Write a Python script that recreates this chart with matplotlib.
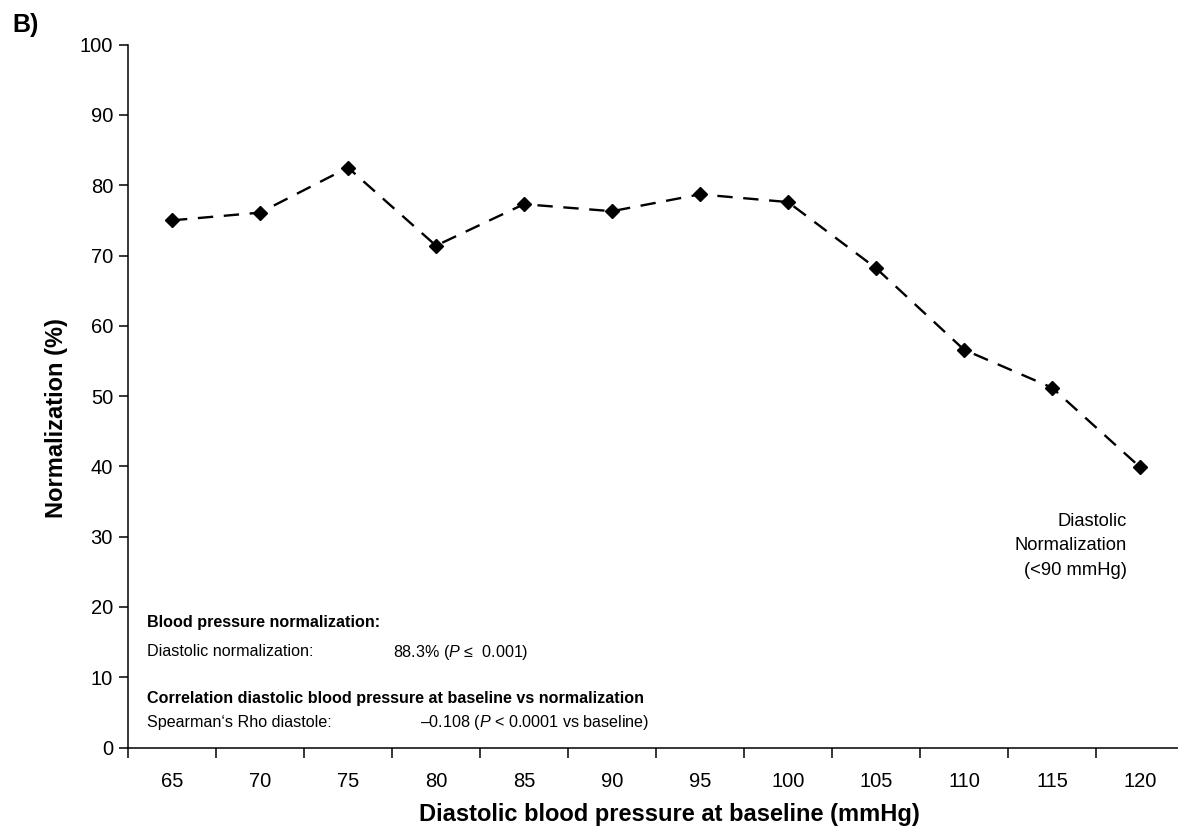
import matplotlib

matplotlib.use("Agg")
import matplotlib.pyplot as plt
import numpy as np

plt.rcParams["font.family"] = ["Liberation Sans", "DejaVu Sans"]
plt.rcParams["mathtext.fontset"] = "custom"
plt.rcParams["mathtext.rm"] = "Liberation Sans"
plt.rcParams["mathtext.it"] = "Liberation Sans:italic"
plt.rcParams["mathtext.bf"] = "Liberation Sans:bold"

# data
bp_labels = ["65", "70", "75", "80", "85", "90", "95", "100", "105", "110", "115", "120"]
normalization = [75.0, 76.1, 82.5, 71.4, 77.3, 76.3, 78.7, 77.6, 68.2, 56.6, 51.2, 39.9]
y_ticks = [0, 10, 20, 30, 40, 50, 60, 70, 80, 90, 100]

W, H = 1178, 834
fig = plt.figure(figsize=(W / 100, H / 100), dpi=100)
fig.patch.set_facecolor("white")

# axes box in pixels: left 128, right edge of image, y=0 at 747.6, y=100 at 44.6
ax_left, ax_bottom_px, ax_top_px = 128, 747.6, 44.6
ax = fig.add_axes([
    ax_left / W,
    (H - ax_bottom_px) / H,
    (W - ax_left) / W,
    (ax_bottom_px - ax_top_px) / H,
])

x = np.arange(len(bp_labels))
ax.plot(
    x,
    normalization,
    color="black",
    linewidth=1.7,
    linestyle=(0, (6.5, 4.5)),
    marker="D",
    markersize=7.5,
    markerfacecolor="black",
    markeredgecolor="black",
    clip_on=False,
    zorder=3,
)

ax.set_xlim(-0.5, -0.5 + (W - ax_left) / 88.0)
ax.set_ylim(0, 100)

for side in ("top", "right"):
    ax.spines[side].set_visible(False)
for side in ("left", "bottom"):
    ax.spines[side].set_linewidth(1.1)
    ax.spines[side].set_color("black")

ax.set_yticks(y_ticks)
ax.set_yticklabels([str(v) for v in y_ticks])
ax.tick_params(axis="y", direction="out", length=6.5, width=1.1, pad=4.3,
               labelsize=14.5, colors="black")

# tick marks between categories, labels at category centres
ax.set_xticks(np.arange(-0.5, len(bp_labels) - 0.5, 1.0))
ax.set_xticklabels([])
ax.set_xticks(x, minor=True)
ax.set_xticklabels(bp_labels, minor=True)
ax.tick_params(axis="x", which="major", direction="out", length=7, width=1.1)
ax.tick_params(axis="x", which="minor", length=0, pad=17.5, labelsize=14.5, colors="black")

ax.set_ylabel("Normalization (%)", fontsize=17, fontweight="bold")
ax.yaxis.label.set_va("center")
ax.yaxis.set_label_coords(-0.068, 0.469)
ax.set_xlabel("Diastolic blood pressure at baseline (mmHg)", fontsize=17, fontweight="bold")
ax.xaxis.label.set_va("center")
ax.xaxis.set_label_coords(0.516, -0.095)


def fx(px):
    return (px - ax_left) / (W - ax_left)


def fy(py):
    return (ax_bottom_px - py) / (ax_bottom_px - ax_top_px)


small = 11.6
ax.text(fx(147), fy(623), "Blood pressure normalization:", transform=ax.transAxes,
        fontsize=small, fontweight="bold", va="center", ha="left")
ax.text(fx(147), fy(652), "Diastolic normalization:", transform=ax.transAxes,
        fontsize=small, va="center", ha="left")
ax.text(fx(393), fy(652), "88.3% ($P$ ≤  0.001)", transform=ax.transAxes,
        fontsize=small, va="center", ha="left")
ax.text(fx(147), fy(698), "Correlation diastolic blood pressure at baseline vs normalization",
        transform=ax.transAxes, fontsize=small, fontweight="bold", va="center", ha="left")
ax.text(fx(147), fy(723), "Spearman‘s Rho diastole:", transform=ax.transAxes,
        fontsize=small, va="center", ha="left")
ax.text(fx(420), fy(723), "–0.108 ($P$ < 0.0001 vs baseline)", transform=ax.transAxes,
        fontsize=small, va="center", ha="left")

ax.text(fx(1127), fy(546), "Diastolic\nNormalization\n(<90 mmHg)", transform=ax.transAxes,
        fontsize=13.2, va="center", ha="right", multialignment="right", linespacing=1.55)

fig.text(12 / W, 1 - 32 / H, "B)", fontsize=18, fontweight="bold", ha="left", va="baseline")

fig.savefig("out.png", dpi=100, facecolor="white")
plt.close(fig)
